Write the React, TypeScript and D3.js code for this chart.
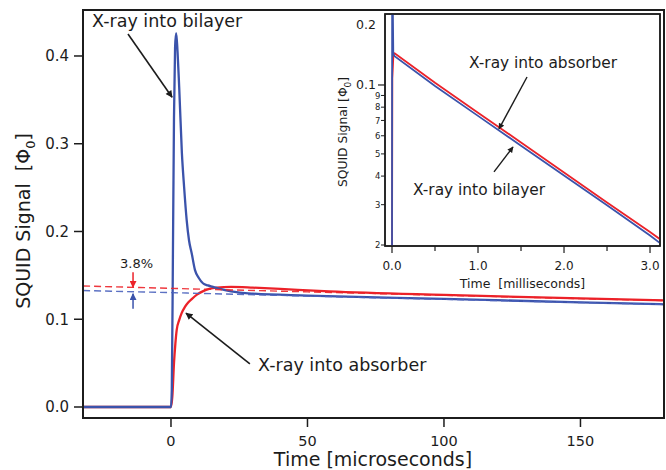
import * as d3 from 'd3';

// main plot, time in microseconds, signal in Phi0
const blueT = [-32.2, 0, 0.3, 0.7, 1.1, 1.5, 1.9, 2.4, 3.0, 4.0, 4.8, 5.75, 6.6, 7.6, 8.8, 10.2, 11.7, 13.5, 15.4, 18, 22, 30, 50, 100, 150, 180.6];
const blueV = [0, 0, 0.02, 0.17, 0.33, 0.41, 0.426, 0.405, 0.365, 0.289, 0.251, 0.213, 0.19, 0.175, 0.156, 0.147, 0.141, 0.1385, 0.137, 0.1345, 0.1318, 0.1292, 0.127, 0.1232, 0.1193, 0.117];
const redT = [-32.2, 0, 0.5, 1.1, 1.6, 2.1, 3.0, 3.9, 5.1, 6.3, 7.6, 9.5, 11.8, 14, 16.7, 22, 30, 40, 58, 100, 150, 180.6];
const redV = [0, 0, 0.012, 0.05, 0.072, 0.088, 0.099, 0.107, 0.114, 0.119, 0.123, 0.128, 0.132, 0.1345, 0.136, 0.1368, 0.136, 0.1345, 0.1318, 0.1277, 0.1237, 0.1215];
const fitT = [-32.2, 0, 50, 100, 150, 180.6];
const redFitV = [0.1379, 0.1352, 0.1312, 0.1273, 0.1235, 0.1213];
const blueFitV = [0.1327, 0.1303, 0.1264, 0.1227, 0.119, 0.1169];
const mainXTicks = [0, 50, 100, 150];
const mainYTicks = [0, 0.1, 0.2, 0.3, 0.4];

// inset, time in milliseconds, log signal
const insetRedT = [0, 0.004, 0.017, 0.03, 0.5, 1.0, 1.5, 2.0, 2.5, 3.0, 3.116];
const insetRedV = [0.015, 0.107, 0.137, 0.1375, 0.1022, 0.0757, 0.0561, 0.0415, 0.0307, 0.0228, 0.0212];
const insetBlueT = [0, 0.002, 0.015, 0.03, 0.5, 1.0, 1.5, 2.0, 2.5, 3.0, 3.116];
const insetBlueV = [0.015, 0.426, 0.137, 0.1335, 0.099, 0.0733, 0.0543, 0.0402, 0.0298, 0.022, 0.0204];
const insetXMajor = [0, 1, 2, 3];
const insetXMinor = [0.5, 1.5, 2.5];
const insetYMinor = [0.09, 0.08, 0.07, 0.06, 0.05, 0.04, 0.03, 0.02];

const BLUE = '#3b53ab';
const RED = '#ec2229';
const INK = '#1c1c1c';
const FONT = '"DejaVu Sans", Verdana, sans-serif';

const zip = (t: number[], v: number[]) => t.map((d, i) => [d, v[i]] as [number, number]);

export default function App() {
  const x = d3.scaleLinear().domain([-32.23, 180.6]).range([83, 664]);
  const y = d3.scaleLinear().domain([-0.01254, 0.4524]).range([418, 10]);
  const line = d3.line<[number, number]>().x((d) => x(d[0])).y((d) => y(d[1])).curve(d3.curveMonotoneX);

  const ix = d3.scaleLinear().domain([-0.0814, 3.116]).range([385, 660]);
  const iy = d3.scaleLog().domain([0.0198, 0.2042]).range([246, 14]);
  const iline = d3.line<[number, number]>().x((d) => ix(d[0])).y((d) => iy(d[1]));

  const P = (t: number, v: number) => [x(t), y(v)];
  const IP = (t: number, v: number) => [ix(t), iy(v)];

  const arrow = (a: number[], b: number[], color: string, id: string, w = 1.4) => (
    <line x1={a[0]} y1={a[1]} x2={b[0]} y2={b[1]} stroke={color} strokeWidth={w} markerEnd={`url(#${id})`} />
  );

  const [bx1, by1] = P(-15.75, 0.425);
  const [bx2, by2] = P(0.4, 0.353);
  const [ax1, ay1] = P(28.9, 0.049);
  const [ax2, ay2] = P(5.5, 0.107);

  return (
    <svg width={666} height={470} style={{ position: 'absolute', left: 0, top: 0, background: '#fff' }} fontFamily={FONT}>
      <defs>
        <marker id="ahK" viewBox="0 0 10 10" refX="9" refY="5" markerWidth="7" markerHeight="6" markerUnits="userSpaceOnUse" orient="auto">
          <path d="M0,0 L10,5 L0,10 z" fill={INK} />
        </marker>
        <marker id="ahK2" viewBox="0 0 10 10" refX="9" refY="5" markerWidth="9" markerHeight="7" markerUnits="userSpaceOnUse" orient="auto">
          <path d="M0,0 L10,5 L0,10 z" fill={INK} />
        </marker>
        <marker id="ahR" viewBox="0 0 10 10" refX="9" refY="5" markerWidth="7" markerHeight="7" markerUnits="userSpaceOnUse" orient="auto">
          <path d="M0,0 L10,5 L0,10 z" fill={RED} />
        </marker>
        <marker id="ahB" viewBox="0 0 10 10" refX="9" refY="5" markerWidth="7" markerHeight="7" markerUnits="userSpaceOnUse" orient="auto">
          <path d="M0,0 L10,5 L0,10 z" fill={BLUE} />
        </marker>
        <clipPath id="mainClip">
          <rect x={83} y={10} width={581} height={408} />
        </clipPath>
        <clipPath id="insetClip">
          <rect x={385} y={14} width={275} height={232} />
        </clipPath>
      </defs>

      {/* main curves */}
      <g clipPath="url(#mainClip)" fill="none">
        <path d={line(zip(redT, redV)) ?? ''} stroke={RED} strokeWidth={2.3} />
        <path d={line(zip(blueT, blueV)) ?? ''} stroke={BLUE} strokeWidth={2.3} />
        <path d={line(zip(fitT, redFitV)) ?? ''} stroke={RED} strokeWidth={1.4} strokeDasharray="7,4" opacity={0.9} />
        <path d={line(zip(fitT, blueFitV)) ?? ''} stroke="#4a62bd" strokeWidth={1.4} strokeDasharray="7,4" opacity={0.9} />
      </g>

      {/* main frame + axes */}
      <rect x={83} y={10} width={581} height={408} fill="none" stroke={INK} strokeWidth={2} />
      {mainYTicks.map((v) => (
        <g key={v}>
          <line x1={74} x2={83} y1={y(v)} y2={y(v)} stroke={INK} strokeWidth={1.5} />
          <text x={69} y={y(v)} dy="0.36em" textAnchor="end" fontSize={15} fill={INK}>
            {v.toFixed(1)}
          </text>
        </g>
      ))}
      {mainXTicks.map((t) => (
        <g key={t}>
          <line x1={x(t)} x2={x(t)} y1={418} y2={427} stroke={INK} strokeWidth={1.5} />
          <text x={x(t)} y={446} textAnchor="middle" fontSize={14.5} fill={INK}>
            {t}
          </text>
        </g>
      ))}
      <text x={373} y={466} textAnchor="middle" fontSize={19} fill={INK}>
        Time [microseconds]
      </text>
      <text transform="translate(30,221) rotate(-90)" textAnchor="middle" fontSize={19} fill={INK}>
        SQUID Signal{'\u00a0\u00a0'}[Φ<tspan fontSize={13} dy={5}>0</tspan>
        <tspan dy={-5}>]</tspan>
      </text>

      {/* main annotations */}
      <text x={x(-28.9)} y={y(0.433)} fontSize={17.5} fill={INK}>
        X-ray into bilayer
      </text>
      {arrow([bx1, by1], [bx2, by2], INK, 'ahK2', 1.6)}
      <text x={x(31.9)} y={y(0.041)} fontSize={17.5} fill={INK}>
        X-ray into absorber
      </text>
      {arrow([ax1, ay1], [ax2, ay2], INK, 'ahK2', 1.6)}
      <text x={x(-12.6)} y={y(0.1584)} textAnchor="middle" fontSize={13} fill={INK}>
        3.8%
      </text>
      {arrow(P(-13.9, 0.1535), P(-13.9, 0.1365), RED, 'ahR', 1.5)}
      {arrow(P(-13.9, 0.112), P(-13.9, 0.129), BLUE, 'ahB', 1.5)}

      {/* inset */}
      <rect x={385} y={14} width={275} height={232} fill="#fff" stroke={INK} strokeWidth={1.5} />
      <g clipPath="url(#insetClip)" fill="none">
        <path d={iline(zip(insetRedT, insetRedV)) ?? ''} stroke={RED} strokeWidth={1.8} />
        <path d={iline(zip(insetBlueT, insetBlueV)) ?? ''} stroke={BLUE} strokeWidth={1.8} />
      </g>
      <rect x={385} y={14} width={275} height={232} fill="none" stroke={INK} strokeWidth={1.5} />
      {insetXMajor.map((t) => (
        <g key={t}>
          <line x1={ix(t)} x2={ix(t)} y1={246} y2={253} stroke={INK} strokeWidth={1.2} />
          <text x={ix(t)} y={270} textAnchor="middle" fontSize={12} fill={INK}>
            {t.toFixed(1)}
          </text>
        </g>
      ))}
      {insetXMinor.map((t) => (
        <line key={t} x1={ix(t)} x2={ix(t)} y1={246} y2={251} stroke={INK} strokeWidth={1.2} />
      ))}
      <text x={522.5} y={288} textAnchor="middle" fontSize={12.5} fill={INK}>
        Time{'\u00a0\u00a0'}[milliseconds]
      </text>
      <line x1={378} x2={385} y1={iy(0.1)} y2={iy(0.1)} stroke={INK} strokeWidth={1.2} />
      <text x={376} y={iy(0.1)} dy="0.36em" textAnchor="end" fontSize={12.5} fill={INK}>
        0.1
      </text>
      <text x={376} y={iy(0.2) + 8} dy="0.36em" textAnchor="end" fontSize={12.5} fill={INK}>
        0.2
      </text>
      {insetYMinor.map((v) => (
        <g key={v}>
          <line x1={381} x2={385} y1={iy(v)} y2={iy(v)} stroke={INK} strokeWidth={1} />
          <text x={380.5} y={iy(v)} dy="0.36em" textAnchor="end" fontSize={8.5} fill={INK}>
            {Math.round(v * 100)}
          </text>
        </g>
      ))}
      <text transform="translate(347,132) rotate(-90)" textAnchor="middle" fontSize={12.3} fill={INK}>
        SQUID Signal [Φ<tspan fontSize={9} dy={3.5}>0</tspan>
        <tspan dy={-3.5}>]</tspan>
      </text>

      {/* inset annotations */}
      <text x={ix(0.895)} y={iy(0.1186)} fontSize={15.4} fill={INK}>
        X-ray into absorber
      </text>
      {arrow(IP(1.57, 0.1084), IP(1.244, 0.0643), INK, 'ahK', 1.4)}
      <text x={ix(0.244)} y={iy(0.0331)} fontSize={15.4} fill={INK}>
        X-ray into bilayer
      </text>
      {arrow(IP(1.186, 0.0417), IP(1.407, 0.0536), INK, 'ahK', 1.4)}
    </svg>
  );
}
